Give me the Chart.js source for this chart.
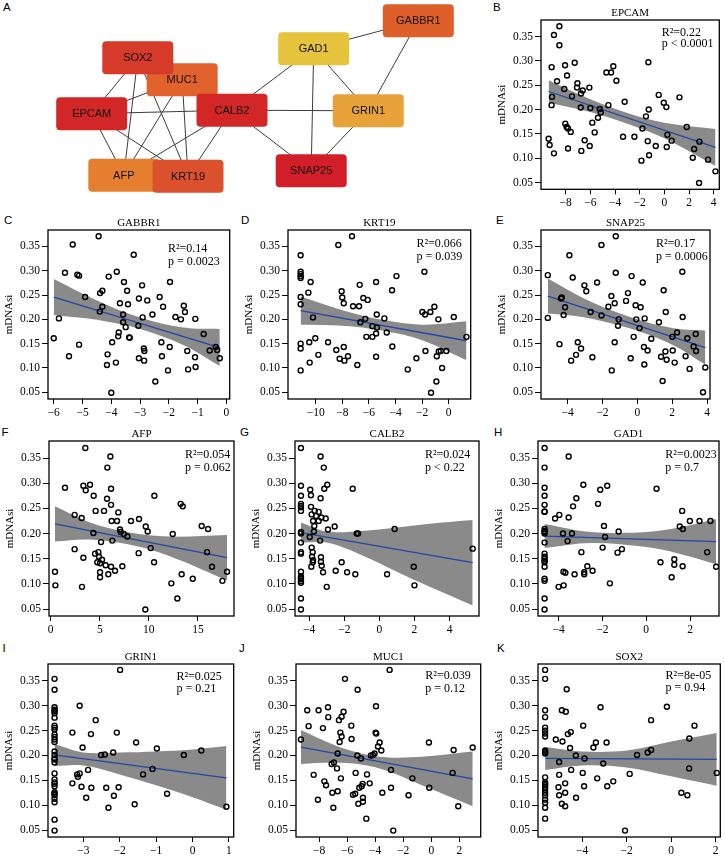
<!DOCTYPE html>
<html><head><meta charset="utf-8">
<script src="https://cdn.jsdelivr.net/npm/chart.js@4/dist/chart.umd.min.js"></script>
<style>
html,body{margin:0;padding:0;background:#fff;}
body{width:725px;height:862px;position:relative;overflow:hidden;}
canvas{position:absolute;}
.lbl{position:absolute;font-family:"Liberation Sans",Arial,sans-serif;font-size:11.5px;line-height:1;color:#000;}
</style></head><body>
<div class="lbl" style="left:3px;top:1.7px">A</div>
<div class="lbl" style="left:493px;top:1.7px">B</div>
<div class="lbl" style="left:4px;top:215.4px">C</div>
<div class="lbl" style="left:241px;top:215.4px">D</div>
<div class="lbl" style="left:496px;top:215.4px">E</div>
<div class="lbl" style="left:1.5px;top:426.7px">F</div>
<div class="lbl" style="left:240px;top:426.7px">G</div>
<div class="lbl" style="left:494px;top:426.7px">H</div>
<div class="lbl" style="left:2.5px;top:643.4px">I</div>
<div class="lbl" style="left:239px;top:643.4px">J</div>
<div class="lbl" style="left:497px;top:643.4px">K</div>
<script>
// ---------------- Panel A: network ----------------
const netNames = ['MUC1','SOX2','EPCAM','CALB2','AFP','KRT19','GAD1','GABBR1','GRIN1','SNAP25'];
const netX = [18.22,13.78,9.17,23.20,12.38,18.80,31.37,41.83,36.83,31.12];
const netY = [7.97,5.78,11.37,11.02,17.52,17.62,4.87,2.07,11.08,17.07];
const netColors = ['#e1622d','#d63a28','#d32626','#d32626','#e67e30','#db502d','#e6c33c','#de5f2a','#e7a23a','#d21e28'];
const netEdges = [['SOX2','EPCAM'],['SOX2','AFP'],['SOX2','KRT19'],['MUC1','EPCAM'],['MUC1','AFP'],['MUC1','KRT19'],
  ['EPCAM','CALB2'],['EPCAM','AFP'],['EPCAM','KRT19'],['CALB2','AFP'],['CALB2','KRT19'],['CALB2','GAD1'],
  ['CALB2','GRIN1'],['CALB2','SNAP25'],['GAD1','GABBR1'],['GAD1','GRIN1'],['GAD1','SNAP25'],['GABBR1','GRIN1'],['GRIN1','SNAP25']];

// ---------------- Scatter panels: shared y ----------------
const yTicks = [0.05,0.10,0.15,0.20,0.25,0.30,0.35];
const yRange = [0.0361, 0.3839];

// EPCAM
const epcamPts = [[-8.51,0.371],[-8.95,0.353],[-8.51,0.332],[-9.14,0.287],[-8.05,0.291],[-7.27,0.296],[-8.70,0.258],[-7.89,0.270],[-7.05,0.254],[-7.08,0.245],[-8.11,0.242],[-6.62,0.239],[-6.76,0.233],[-7.49,0.227],[-6.08,0.245],[-9.11,0.226],[-9.14,0.209],[-6.78,0.204],[-6.00,0.203],[-5.24,0.201],[-5.16,0.194],[-4.54,0.209],[-5.38,0.183],[-5.84,0.173],[-5.65,0.153],[-8.03,0.171],[-7.92,0.164],[-7.81,0.161],[-7.59,0.154],[-9.38,0.140],[-9.30,0.127],[-8.95,0.110],[-7.81,0.120],[-6.46,0.137],[-6.05,0.125],[-6.73,0.115],[-4.70,0.276],[-4.32,0.276],[-4.14,0.289],[-3.89,0.259],[-3.22,0.216],[-3.35,0.144],[-2.43,0.144],[-1.30,0.297],[-1.27,0.200],[-1.49,0.186],[-1.78,0.161],[-1.35,0.135],[-1.24,0.106],[-1.86,0.095],[-0.70,0.125],[-0.46,0.230],[-0.05,0.214],[0.16,0.205],[0.24,0.148],[0.59,0.136],[0.19,0.123],[1.22,0.225],[1.81,0.164],[2.30,0.101],[2.41,0.119],[2.84,0.134],[2.81,0.049],[3.54,0.097],[4.14,0.073]];
const epcamFitX = [-9.38,4.14], epcamFitY = [0.237,0.122];
const epcamBandX = [-9.38,-6,-3,0,4.14];
const epcamBandHi = [0.260,0.221,0.193,0.173,0.160];
const epcamBandLo = [0.214,0.195,0.171,0.141,0.084];

// GABBR1
const gabbr1Pts = [[-4.44,0.371],[-5.34,0.354],[-3.22,0.333],[-5.61,0.296],[-5.18,0.292],[-5.12,0.290],[-3.81,0.298],[-4.09,0.288],[-3.56,0.277],[-2.93,0.270],[-1.96,0.277],[-3.45,0.259],[-4.31,0.259],[-4.39,0.254],[-4.91,0.246],[-3.04,0.243],[-2.32,0.246],[-2.75,0.239],[-3.70,0.233],[-3.42,0.231],[-4.31,0.226],[-2.20,0.226],[-1.48,0.228],[-1.44,0.215],[-4.40,0.216],[-2.57,0.210],[-3.59,0.210],[-5.82,0.202],[-2.91,0.204],[-1.77,0.205],[-1.58,0.200],[-1.08,0.201],[-3.59,0.194],[-3.50,0.184],[-3.06,0.187],[-3.74,0.173],[-3.76,0.165],[-3.38,0.163],[-3.36,0.162],[-0.79,0.170],[-6.00,0.161],[-3.97,0.153],[-5.12,0.148],[-2.26,0.153],[-1.97,0.143],[-2.87,0.140],[-2.85,0.135],[-1.36,0.135],[-0.58,0.136],[-0.37,0.143],[-0.32,0.137],[-0.23,0.120],[-4.13,0.128],[-5.47,0.124],[-2.24,0.124],[-3.04,0.120],[-2.86,0.115],[-3.84,0.111],[-4.15,0.106],[-1.09,0.122],[-1.07,0.102],[-1.33,0.097],[-2.03,0.095],[-2.47,0.072],[-4.00,0.049]];
const gabbr1FitX = [-6.0,-0.23], gabbr1FitY = [0.246,0.142];
const gabbr1BandX = [-6.0,-4.5,-3,-1.5,-0.23];
const gabbr1BandHi = [0.283,0.239,0.204,0.183,0.180];
const gabbr1BandLo = [0.209,0.199,0.180,0.147,0.104];

// KRT19
const krt19Pts = [[-7.27,0.371],[-8.30,0.353],[-11.13,0.332],[-11.13,0.298],[-11.13,0.293],[-11.13,0.289],[-11.13,0.285],[-10.38,0.277],[-10.55,0.255],[-11.13,0.246],[-11.13,0.231],[-10.20,0.204],[-11.13,0.150],[-11.13,0.140],[-11.13,0.095],[-10.48,0.153],[-10.03,0.161],[-10.45,0.111],[-9.80,0.127],[-9.07,0.153],[-8.45,0.137],[-8.20,0.119],[-7.89,0.143],[-7.84,0.115],[-8.05,0.258],[-8.00,0.245],[-7.89,0.233],[-7.57,0.124],[-7.19,0.227],[-6.87,0.106],[-6.74,0.227],[-6.69,0.271],[-6.64,0.194],[-6.42,0.244],[-6.09,0.240],[-6.27,0.201],[-6.19,0.164],[-5.74,0.186],[-5.46,0.277],[-5.41,0.210],[-5.39,0.183],[-5.46,0.171],[-5.74,0.164],[-5.46,0.123],[-4.84,0.202],[-4.66,0.173],[-4.26,0.260],[-3.93,0.289],[-4.24,0.144],[-3.08,0.097],[-2.43,0.120],[-1.83,0.298],[-1.98,0.215],[-1.78,0.210],[-1.38,0.215],[-1.08,0.226],[-1.75,0.135],[-0.78,0.200],[-0.75,0.134],[-0.60,0.135],[-0.90,0.124],[-0.18,0.135],[-0.50,0.100],[-0.93,0.072],[-1.33,0.049],[0.38,0.205],[1.33,0.164]];
const krt19FitX = [-11.13,1.33], krt19FitY = [0.218,0.156];
const krt19BandX = [-11.13,-8,-5,-2,1.33];
const krt19BandHi = [0.247,0.219,0.199,0.189,0.196];
const krt19BandLo = [0.189,0.187,0.177,0.157,0.116];

// SNAP25
const snap25Pts = [[-1.24,0.371],[-2.06,0.353],[-3.90,0.332],[-5.14,0.291],[-3.71,0.286],[-1.24,0.296],[-0.33,0.289],[0.31,0.276],[-3.04,0.270],[-2.93,0.258],[-2.31,0.276],[1.51,0.260],[2.58,0.298],[-0.54,0.254],[-0.65,0.238],[-1.49,0.248],[-1.30,0.233],[-1.66,0.226],[-4.34,0.245],[-4.38,0.243],[-4.15,0.225],[-4.23,0.209],[-5.14,0.203],[-2.68,0.215],[-2.06,0.208],[-0.10,0.229],[0.19,0.225],[-1.07,0.200],[-1.11,0.187],[-0.06,0.200],[0.13,0.182],[0.42,0.202],[1.63,0.215],[1.24,0.194],[2.60,0.205],[-0.21,0.164],[0.80,0.160],[2.01,0.164],[2.28,0.173],[2.87,0.161],[3.35,0.170],[-4.47,0.149],[-3.42,0.153],[-3.23,0.140],[-3.52,0.127],[-3.80,0.115],[-1.30,0.153],[0.38,0.143],[0.59,0.136],[1.61,0.134],[1.36,0.123],[1.68,0.117],[2.03,0.136],[3.23,0.144],[3.37,0.135],[2.77,0.124],[-2.58,0.122],[-0.38,0.120],[0.40,0.107],[2.14,0.111],[3.00,0.098],[3.90,0.101],[-1.47,0.095],[1.45,0.073],[3.77,0.050]];
const snap25FitX = [-5.14,3.90], snap25FitY = [0.248,0.142];
const snap25BandX = [-5.14,-3,-0.5,2,3.9];
const snap25BandHi = [0.284,0.242,0.206,0.182,0.177];
const snap25BandLo = [0.212,0.204,0.182,0.148,0.107];

// AFP
const afpPts = [[3.53,0.370],[6.08,0.353],[5.77,0.331],[1.46,0.291],[3.33,0.295],[3.57,0.286],[4.01,0.297],[6.15,0.289],[4.38,0.275],[5.74,0.269],[10.56,0.275],[6.15,0.257],[13.24,0.259],[13.45,0.254],[2.44,0.237],[3.16,0.231],[4.58,0.245],[5.43,0.245],[6.21,0.225],[6.76,0.225],[6.89,0.242],[8.18,0.225],[9.00,0.229],[7.06,0.208],[7.13,0.203],[7.44,0.199],[7.81,0.194],[9.68,0.214],[9.88,0.204],[12.43,0.199],[15.38,0.215],[16.03,0.209],[4.35,0.201],[5.13,0.183],[6.28,0.186],[2.44,0.169],[4.52,0.160],[4.86,0.163],[4.92,0.154],[4.75,0.143],[5.23,0.148],[5.03,0.141],[8.96,0.161],[10.19,0.171],[10.53,0.143],[15.93,0.163],[3.33,0.152],[5.60,0.137],[6.15,0.134],[6.55,0.126],[7.30,0.135],[5.03,0.123],[5.03,0.113],[5.87,0.119],[13.34,0.119],[16.43,0.134],[0.44,0.124],[0.48,0.097],[3.19,0.094],[12.29,0.101],[14.47,0.110],[17.49,0.106],[17.96,0.124],[12.90,0.071],[9.64,0.049]];
const afpFitX = [0.44,17.96], afpFitY = [0.219,0.152];
const afpBandX = [0.44,4,8,12,17.96];
const afpBandHi = [0.254,0.222,0.202,0.194,0.197];
const afpBandLo = [0.184,0.188,0.178,0.156,0.107];

// CALB2
const calb2Pts = [[-4.47,0.370],[-4.47,0.295],[-4.47,0.275],[-4.47,0.259],[-4.47,0.255],[-4.47,0.252],[-4.47,0.245],[-4.47,0.203],[-4.47,0.200],[-4.47,0.182],[-4.47,0.163],[-4.47,0.160],[-4.47,0.124],[-4.47,0.115],[-4.47,0.112],[-4.47,0.109],[-4.47,0.105],[-4.47,0.102],[-4.47,0.071],[-4.47,0.049],
 [-3.35,0.353],[-3.17,0.331],[-3.94,0.287],[-3.90,0.276],[-2.97,0.297],[-3.14,0.289],[-3.35,0.270],[-3.90,0.253],[-3.86,0.238],[-3.69,0.245],[-3.46,0.243],[-3.61,0.235],[-3.78,0.225],[-3.46,0.225],[-3.06,0.230],[-3.31,0.232],[-3.71,0.215],[-3.73,0.204],[-3.97,0.193],[-3.38,0.186],[-2.93,0.208],[-2.55,0.214],[-1.52,0.289],[-1.29,0.200],[-1.22,0.200],[0.87,0.209],[-3.86,0.172],[-3.80,0.163],[-3.84,0.154],[-3.78,0.147],[-3.80,0.143],[-3.88,0.134],[-3.33,0.153],[-3.33,0.144],[-3.29,0.136],[-3.21,0.123],[-3.00,0.094],[-2.49,0.126],[-2.15,0.143],[-1.84,0.123],[-1.37,0.119],[0.44,0.119],[1.96,0.134],[2.00,0.097],[5.32,0.170]];
const calb2FitX = [-4.47,5.32], calb2FitY = [0.202,0.142];
const calb2BandX = [-4.47,-3,-1,1,3,5.32];
const calb2BandHi = [0.222,0.204,0.205,0.212,0.220,0.227];
const calb2BandLo = [0.182,0.182,0.157,0.124,0.092,0.057];

// GAD1
const gad1Pts = [[-4.64,0.370],[-4.64,0.331],[-4.64,0.291],[-4.64,0.275],[-4.64,0.257],[-4.64,0.244],[-4.64,0.243],[-4.64,0.209],[-4.64,0.205],[-4.64,0.203],[-4.64,0.200],[-4.64,0.182],[-4.64,0.160],[-4.64,0.154],[-4.64,0.150],[-4.64,0.146],[-4.64,0.143],[-4.64,0.134],[-4.64,0.110],[-4.64,0.106],[-4.64,0.071],[-4.64,0.049],
 [-3.54,0.353],[-4.16,0.230],[-3.97,0.237],[-3.54,0.232],[-3.34,0.254],[-3.19,0.270],[-2.87,0.297],[-3.80,0.200],[-3.39,0.200],[-3.59,0.185],[-2.96,0.163],[-3.78,0.124],[-3.69,0.122],[-3.27,0.119],[-2.83,0.119],[-2.83,0.123],[-2.69,0.135],[-2.45,0.126],[-4.00,0.094],[-3.77,0.097],[-2.20,0.259],[-2.10,0.287],[-1.78,0.295],[-1.93,0.215],[-1.88,0.193],[-1.99,0.172],[-1.66,0.101],[-1.26,0.204],[-1.11,0.169],[-1.31,0.162],[0.47,0.289],[0.65,0.143],[1.28,0.149],[1.28,0.138],[1.16,0.113],[1.64,0.245],[1.53,0.214],[1.67,0.209],[1.66,0.135],[1.99,0.225],[2.43,0.225],[2.93,0.225],[2.78,0.163],[3.19,0.134]];
const gad1FitX = [-4.64,3.19], gad1FitY = [0.195,0.184];
const gad1BandX = [-4.64,-2.5,0,1.5,3.19];
const gad1BandHi = [0.219,0.203,0.203,0.212,0.229];
const gad1BandLo = [0.171,0.181,0.173,0.160,0.139];

// GRIN1
const grin1Pts = [[-3.79,0.354],[-3.79,0.332],[-3.79,0.297],[-3.79,0.292],[-3.79,0.289],[-3.79,0.285],[-3.79,0.276],[-3.79,0.260],[-3.79,0.256],[-3.79,0.252],[-3.79,0.242],[-3.79,0.237],[-3.79,0.232],[-3.79,0.227],[-3.79,0.208],[-3.79,0.201],[-3.79,0.194],[-3.79,0.192],[-3.79,0.186],[-3.79,0.164],[-3.79,0.152],[-3.79,0.146],[-3.79,0.143],[-3.79,0.138],[-3.79,0.126],[-3.79,0.123],[-3.79,0.120],[-3.79,0.113],[-3.79,0.106],[-3.79,0.071],[-3.79,0.049],
 [-1.99,0.372],[-3.10,0.300],[-2.66,0.271],[-3.30,0.246],[-2.79,0.243],[-2.08,0.246],[-3.02,0.216],[-2.51,0.201],[-2.41,0.202],[-2.18,0.206],[-1.55,0.226],[-0.98,0.214],[-0.24,0.201],[0.24,0.210],[-2.87,0.171],[-3.17,0.162],[-3.10,0.164],[-3.15,0.157],[-3.30,0.144],[-3.05,0.137],[-2.78,0.135],[-2.37,0.135],[-2.03,0.136],[-2.92,0.115],[-2.16,0.119],[-2.31,0.095],[-1.59,0.102],[-1.36,0.162],[-1.10,0.173],[-0.70,0.123],[0.93,0.097]];
const grin1FitX = [-3.79,0.93], grin1FitY = [0.201,0.155];
const grin1BandX = [-3.79,-3,-2,-1,0,0.93];
const grin1BandHi = [0.223,0.206,0.206,0.208,0.212,0.219];
const grin1BandLo = [0.179,0.180,0.162,0.140,0.116,0.091];

// MUC1
const muc1Pts = [[-2.97,0.372],[-6.15,0.354],[-5.25,0.332],[-3.94,0.299],[-8.84,0.291],[-8.03,0.291],[-7.36,0.297],[-6.25,0.288],[-6.39,0.278],[-7.34,0.277],[-6.58,0.271],[-8.74,0.259],[-5.70,0.260],[-7.72,0.255],[-6.48,0.246],[-6.39,0.238],[-3.97,0.246],[-3.92,0.244],[-9.29,0.232],[-5.68,0.233],[-6.53,0.227],[-3.68,0.226],[-0.17,0.226],[-3.80,0.218],[-3.56,0.210],[1.59,0.211],[2.95,0.216],[-6.67,0.204],[-5.27,0.200],[-5.01,0.194],[-4.30,0.200],[-4.04,0.204],[-4.16,0.201],[-6.94,0.186],[-7.10,0.183],[-6.72,0.174],[-2.87,0.171],[-5.39,0.165],[-4.58,0.162],[-8.38,0.161],[1.52,0.165],[-7.62,0.148],[-6.44,0.154],[-1.35,0.154],[-7.50,0.140],[-4.89,0.143],[-4.39,0.144],[-4.96,0.138],[-5.13,0.135],[-2.87,0.135],[-0.14,0.135],[-7.05,0.125],[-6.67,0.128],[-3.49,0.125],[-5.58,0.121],[-5.42,0.123],[-4.87,0.115],[-4.87,0.107],[-5.20,0.103],[-1.62,0.120],[-8.08,0.111],[-6.98,0.095],[1.92,0.098],[-4.63,0.073],[-2.71,0.049]];
const muc1FitX = [-9.29,2.95], muc1FitY = [0.217,0.153];
const muc1BandX = [-9.29,-7,-5,-3,-0.5,2.95];
const muc1BandHi = [0.251,0.222,0.204,0.196,0.198,0.208];
const muc1BandLo = [0.183,0.186,0.182,0.168,0.138,0.098];

// SOX2
const sox2Pts = [[-5.66,0.372],[-5.66,0.354],[-5.66,0.291],[-5.66,0.277],[-5.66,0.256],[-5.66,0.250],[-5.66,0.244],[-5.66,0.238],[-5.66,0.210],[-5.66,0.207],[-5.66,0.204],[-5.66,0.156],[-5.66,0.146],[-5.66,0.143],[-5.66,0.140],[-5.66,0.136],[-5.66,0.131],[-5.66,0.125],[-5.66,0.120],[-5.66,0.111],[-5.66,0.105],[-5.66,0.095],[-5.66,0.073],
 [-4.69,0.333],[-3.17,0.297],[-0.19,0.298],[-4.91,0.291],[-4.73,0.288],[-0.90,0.271],[-3.95,0.260],[1.05,0.260],[-4.51,0.247],[-4.64,0.243],[0.82,0.234],[-5.18,0.232],[-4.88,0.228],[-3.38,0.226],[-2.90,0.226],[-3.49,0.216],[-4.54,0.215],[-0.90,0.211],[-1.05,0.206],[-4.28,0.200],[-1.53,0.201],[-3.89,0.194],[-5.03,0.187],[-3.05,0.184],[-4.49,0.171],[0.81,0.174],[-3.97,0.165],[-1.86,0.163],[2.05,0.165],[-5.03,0.161],[-3.32,0.154],[-4.76,0.144],[-3.91,0.138],[-2.87,0.138],[-2.60,0.148],[-5.06,0.136],[-4.76,0.125],[-5.03,0.120],[-4.27,0.115],[0.46,0.125],[0.73,0.120],[-4.91,0.103],[-4.76,0.098],[-2.07,0.049]];
const sox2FitX = [-5.66,2.05], sox2FitY = [0.194,0.192];
const sox2BandX = [-5.66,-4,-2,0,2.05];
const sox2BandHi = [0.217,0.208,0.210,0.228,0.245];
const sox2BandLo = [0.171,0.180,0.176,0.158,0.139];

// panel list: data + layout (box = chart area in page px)
const panels = [
 {gene:'EPCAM', pts:epcamPts, fx:epcamFitX, fy:epcamFitY, bx:epcamBandX, bh:epcamBandHi, bl:epcamBandLo, r2:'R\u00B2=0.22', p:'p < 0.0001', xr:[-10.0,4.45], xt:[-8,-6,-4,-2,0,2,4], box:[541,19.5,719.3,188.8], ann:[57.6,12.5,23.8]},
 {gene:'GABBR1', pts:gabbr1Pts, fx:gabbr1FitX, fy:gabbr1FitY, bx:gabbr1BandX, bh:gabbr1BandHi, bl:gabbr1BandLo, r2:'R\u00B2=0.14', p:'p = 0.0023', xr:[-6.2,0.115], xt:[-6,-5,-4,-3,-2,-1,0], box:[48.3,230,230,399], ann:[61.7,19.3,32.3]},
 {gene:'KRT19', pts:krt19Pts, fx:krt19FitX, fy:krt19FitY, bx:krt19BandX, bh:krt19BandHi, bl:krt19BandLo, r2:'R\u00B2=0.066', p:'p = 0.039', xr:[-12.08,1.65], xt:[-10,-8,-6,-4,-2,0], box:[288.3,230,471,399], ann:[54.3,14.3,27.3]},
 {gene:'SNAP25', pts:snap25Pts, fx:snap25FitX, fy:snap25FitY, bx:snap25BandX, bh:snap25BandHi, bl:snap25BandLo, r2:'R\u00B2=0.17', p:'p = 0.0006', xr:[-5.53,4.17], xt:[-4,-2,0,2,4], box:[541,230,710,399], ann:[54,14.3,27.3]},
 {gene:'AFP', pts:afpPts, fx:afpFitX, fy:afpFitY, bx:afpBandX, bh:afpBandHi, bl:afpBandLo, r2:'R\u00B2=0.054', p:'p = 0.062', xr:[-0.17,18.67], xt:[0,5,10,15], box:[49,441,234,616], ann:[49,14,26.7]},
 {gene:'CALB2', pts:calb2Pts, fx:calb2FitX, fy:calb2FitY, bx:calb2BandX, bh:calb2BandHi, bl:calb2BandLo, r2:'R\u00B2=0.024', p:'p < 0.22', xr:[-4.81,5.68], xt:[-4,-2,0,2,4], box:[295,441,479,616], ann:[54,14,27.3]},
 {gene:'GAD1', pts:gad1Pts, fx:gad1FitX, fy:gad1FitY, bx:gad1BandX, bh:gad1BandHi, bl:gad1BandLo, r2:'R\u00B2=0.0023', p:'p = 0.7', xr:[-4.94,3.32], xt:[-4,-2,0,2], box:[538,441,719,616], ann:[53.7,14,27.3]},
 {gene:'GRIN1', pts:grin1Pts, fx:grin1FitX, fy:grin1FitY, bx:grin1BandX, bh:grin1BandHi, bl:grin1BandLo, r2:'R\u00B2=0.025', p:'p = 0.21', xr:[-3.97,1.13], xt:[-3,-2,-1,0,1], box:[48.3,664,234,837], ann:[57.3,12.7,25.3]},
 {gene:'MUC1', pts:muc1Pts, fx:muc1FitX, fy:muc1FitY, bx:muc1BandX, bh:muc1BandHi, bl:muc1BandLo, r2:'R\u00B2=0.039', p:'p = 0.12', xr:[-9.64,3.52], xt:[-8,-6,-4,-2,0,2], box:[296,664,480.7,837], ann:[55.4,12,25.3]},
 {gene:'SOX2', pts:sox2Pts, fx:sox2FitX, fy:sox2FitY, bx:sox2BandX, bh:sox2BandHi, bl:sox2BandLo, r2:'R\u00B2=8e-05', p:'p = 0.94', xr:[-5.98,2.21], xt:[-4,-2,0,2], box:[537.7,664,720,837], ann:[54.7,12,24.3]}
];

const SERIF = '"Liberation Serif","Times New Roman",serif';
const fmtX = v => (v < 0 ? '\u2212' : '') + Math.abs(v);

const framePlugin = {
  id: 'frame',
  afterDraw(chart, args, o) {
    const ctx = chart.ctx, a = chart.chartArea;
    ctx.save();
    ctx.strokeStyle = '#000'; ctx.lineWidth = 1.3;
    ctx.strokeRect(a.left, a.top, a.right - a.left, a.bottom - a.top);
    ctx.fillStyle = '#000';
    ctx.textBaseline = 'middle';
    ctx.font = '11px ' + SERIF; ctx.textAlign = 'center';
    ctx.fillText(o.title, (a.left + a.right) / 2, a.top - 7);
    ctx.save();
    ctx.translate(a.left - 39, (a.top + a.bottom) / 2);
    ctx.rotate(-Math.PI / 2);
    ctx.font = '11px ' + SERIF;
    ctx.fillText('mDNAsi', 0, 0);
    ctx.restore();
    ctx.font = '12px ' + SERIF; ctx.textAlign = 'left';
    ctx.fillText(o.r2, a.right - o.ann[0], a.top + o.ann[1]);
    ctx.fillText(o.p, a.right - o.ann[0], a.top + o.ann[2]);
    ctx.restore();
  }
};

function addCanvas(left, top, w, h) {
  const c = document.createElement('canvas');
  c.width = w; c.height = h;
  c.style.left = left + 'px'; c.style.top = top + 'px';
  c.style.width = w + 'px'; c.style.height = h + 'px';
  document.body.appendChild(c);
  return c;
}

panels.forEach(pn => {
  const [L, T, R, B] = pn.box;
  const padL = 52, padT = 22, padR = 8, padB = 24;
  const w = Math.round((R - L) + padL + padR), h = Math.round((B - T) + padT + padB);
  const c = addCanvas(L - padL, T - padT, w, h);
  const pr = w - padL - (R - L);
  const pb = h - padT - (B - T);
  new Chart(c, {
    type: 'scatter',
    data: {datasets: [
      {data: pn.pts.map(p => ({x: p[0], y: p[1]})), pointRadius: 2.5, pointBorderWidth: 1.4,
       pointBorderColor: '#000', pointBackgroundColor: 'rgba(0,0,0,0)', order: 0},
      {type: 'line', data: pn.fx.map((x, i) => ({x, y: pn.fy[i]})), borderColor: '#2347a3', borderWidth: 1.3,
       pointRadius: 0, fill: false, order: 1},
      {type: 'line', data: pn.bx.map((x, i) => ({x, y: pn.bh[i]})), borderColor: 'rgba(0,0,0,0)', borderWidth: 0,
       pointRadius: 0, fill: '+1', backgroundColor: '#8a8a8a', tension: 0.35, order: 2},
      {type: 'line', data: pn.bx.map((x, i) => ({x, y: pn.bl[i]})), borderColor: 'rgba(0,0,0,0)', borderWidth: 0,
       pointRadius: 0, fill: false, tension: 0.35, order: 3}
    ]},
    options: {
      responsive: false, animation: false, devicePixelRatio: 1, events: [],
      layout: {padding: {left: 0, top: padT, right: pr, bottom: 0}},
      plugins: {legend: {display: false}, tooltip: {enabled: false}, title: {display: false},
        frame: {title: pn.gene, r2: pn.r2, p: pn.p, ann: pn.ann}},
      scales: {
        x: {type: 'linear', min: pn.xr[0], max: pn.xr[1],
          afterFit: s => { s.height = pb; },
          afterBuildTicks: s => { s.ticks = pn.xt.map(v => ({value: v})); },
          grid: {drawOnChartArea: false, drawTicks: true, tickLength: 5, color: '#000', lineWidth: 1},
          border: {display: false},
          ticks: {color: '#000', font: {family: SERIF, size: 11.5}, padding: 2, maxRotation: 0, autoSkip: false,
            callback: v => fmtX(v)}},
        y: {type: 'linear', min: yRange[0], max: yRange[1],
          afterFit: s => { s.width = padL; },
          afterBuildTicks: s => { s.ticks = yTicks.map(v => ({value: v})); },
          grid: {drawOnChartArea: false, drawTicks: true, tickLength: 6, color: '#000', lineWidth: 1},
          border: {display: false},
          ticks: {color: '#000', font: {family: SERIF, size: 11.5}, padding: 2, autoSkip: false,
            callback: v => Number(v).toFixed(2)}}
      }
    },
    plugins: [framePlugin]
  });
});

// ---------------- Panel A chart ----------------
const nodePlugin = {
  id: 'nodes',
  afterDatasetsDraw(chart) {
    const ctx = chart.ctx, xs = chart.scales.x, ys = chart.scales.y;
    const bw = 71, bh = 33, r = 4;
    ctx.save();
    netNames.forEach((n, i) => {
      const cx = xs.getPixelForValue(netX[i]), cy = ys.getPixelForValue(netY[i]);
      ctx.beginPath();
      ctx.roundRect(cx - bw / 2, cy - bh / 2, bw, bh, r);
      ctx.fillStyle = netColors[i];
      ctx.fill();
      ctx.fillStyle = '#111';
      ctx.font = '11px "Liberation Sans", Arial, sans-serif';
      ctx.textAlign = 'center'; ctx.textBaseline = 'middle';
      ctx.fillText(n, cx, cy + 0.5);
    });
    ctx.restore();
  }
};
const cA = addCanvas(0, 0, 480, 210);
new Chart(cA, {
  type: 'scatter',
  data: {datasets: netEdges.map(e => {
    const a = netNames.indexOf(e[0]), b = netNames.indexOf(e[1]);
    return {type: 'line', data: [{x: netX[a], y: netY[a]}, {x: netX[b], y: netY[b]}],
      borderColor: '#3c3c3c', borderWidth: 1, pointRadius: 0, fill: false};
  })},
  options: {
    responsive: false, animation: false, devicePixelRatio: 1, events: [],
    layout: {padding: 0},
    plugins: {legend: {display: false}, tooltip: {enabled: false}},
    scales: {x: {type: 'linear', min: 0, max: 48, display: false},
             y: {type: 'linear', min: 0, max: 21, reverse: true, display: false}}
  },
  plugins: [nodePlugin]
});
</script>
</body></html>
